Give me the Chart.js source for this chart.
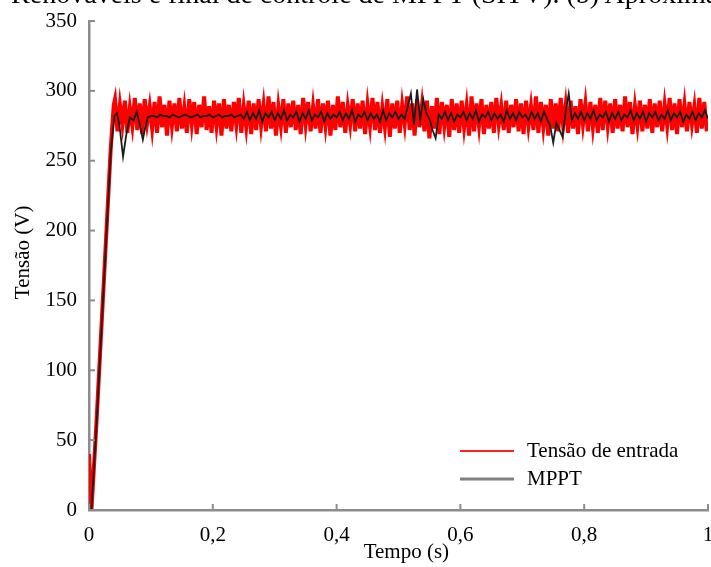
<!DOCTYPE html>
<html lang="pt">
<head>
<meta charset="UTF-8">
<title>Tensão de entrada e MPPT</title>
<script src="https://cdn.jsdelivr.net/npm/chart.js"></script>
<style>
    html, body { margin: 0; padding: 0; background: #fff; overflow: hidden; }
    .wrap { position: relative; width: 711px; height: 567px; overflow: hidden; }
    .caption {
        position: absolute; top: -22px; right: -46px;
        font: 28px "Liberation Serif", "Times New Roman", serif;
        line-height: 32px; white-space: nowrap; color: #000;
    }
</style>
</head>
<body>
<div class="wrap">
    <canvas id="tensaoChart"></canvas>
    <div class="caption">Renováveis e final de controle de MPPT (SITV). (b) Aproximação</div>
</div>
<script>
// eixos
const xTickLabels = ['0', '0,2', '0,4', '0,6', '0,8', '1'];
const yTickLabels = ['0', '50', '100', '150', '200', '250', '300', '350'];

// Tensão de entrada: subida inicial (s, V)
const redRampTime = [0, 0.004, 0.012, 0.02, 0.028, 0.035, 0.04];
const redRampVolt = [40, 0, 62, 130, 198, 258, 290];

// Tensão de entrada: regime, amostras a partir de 0,042 s a cada 0,004 s
const redStart = 0.042;
const redStep = 0.004;
const redVolt = [
    294, 271, 290, 276, 293, 270, 288, 275, 295, 272, 291, 269, 294, 277, 289, 273, 292, 270, 296, 274,
    290, 268, 293, 275, 291, 271, 295, 273, 288, 270, 294, 276, 292, 269, 290, 274, 296, 272, 289, 270,
    293, 275, 291, 268, 294, 273, 290, 271, 292, 276, 295, 270, 289, 274, 293, 269, 291, 272, 294, 275,
    290, 271, 296, 273, 292, 268, 289, 275, 294, 270, 291, 274, 293, 272, 290, 269, 295, 276, 292, 271,
    289, 273, 294, 270, 291, 275, 293, 268, 290, 272, 296, 274, 292, 270, 289, 276, 294, 271, 291, 273,
    293, 269, 290, 275, 295, 272, 292, 270, 288, 274, 294, 267, 291, 273, 293, 270, 290, 276, 296, 272,
    291, 268, 294, 274, 290, 271, 293, 266, 289, 273, 295, 269, 292, 275, 290, 267, 294, 272, 291, 270,
    293, 274, 289, 268, 296, 271, 291, 275, 294, 269, 290, 273, 292, 270, 295, 276, 289, 272, 293, 270,
    290, 274, 294, 271, 291, 269, 293, 275, 289, 272, 296, 270, 292, 274, 290, 268, 294, 273, 291, 271,
    295, 275, 290, 270, 293, 273, 289, 269, 294, 276, 291, 271, 292, 274, 290, 270, 295, 272, 293, 275,
    291, 270, 294, 273, 290, 271, 296, 274, 292, 269, 289, 275, 293, 271, 290, 273, 294, 270, 291, 274,
    293, 271, 290, 275, 295, 272, 291, 269, 294, 274, 290, 271, 292, 276, 289, 270, 295, 273, 292, 271
];

// MPPT: subida e oscilação inicial (s, V)
const blackRampTime = [0.004, 0.012, 0.02, 0.028, 0.035, 0.041, 0.045, 0.049, 0.055, 0.06, 0.066, 0.072, 0.077, 0.082, 0.087, 0.091, 0.095, 0.1];
const blackRampVolt = [0, 60, 128, 196, 255, 282, 284, 276, 253, 268, 281, 279, 285, 276, 265, 274, 281, 282];

// MPPT: regime, amostras a partir de 0,105 s a cada 0,005 s
const blackStart = 0.105;
const blackStep = 0.005;
const blackVolt = [
    282, 281, 283, 282, 282, 281, 283, 282, 281, 282, 283, 282, 281, 282, 283, 281, 282, 282, 283, 281,
    282, 283, 281, 282, 282, 283, 281, 282, 283, 280, 285, 279, 284, 280, 286, 278, 284, 281, 285, 279,
    284, 280, 286, 279, 283, 281, 285, 278, 284, 280, 286, 279, 283, 281, 285, 278, 284, 280, 283, 281,
    285, 279, 284, 280, 286, 278, 283, 281, 285, 279, 284, 280, 283, 278, 286, 279, 284, 281, 285, 280,
    283, 280, 289, 298, 276, 301, 279, 294, 284, 280, 272, 266, 283, 280, 285, 279, 284, 278, 283, 281,
    285, 279, 284, 280, 286, 278, 283, 281, 285, 279, 284, 280, 283, 278, 286, 280, 284, 279, 285, 281,
    283, 279, 285, 280, 284, 278, 285, 280, 275, 263, 277, 272, 267, 285, 298, 279, 284, 280, 285, 279,
    284, 280, 286, 279, 283, 281, 285, 278, 284, 280, 285, 279, 283, 281, 286, 279, 284, 280, 285, 278,
    284, 281, 285, 279, 283, 280, 286, 279, 284, 281, 285, 278, 283, 280, 285, 279, 284, 281, 286, 280
];

function toPoints(rampT, rampV, start, step, values) {
    const pts = rampT.map((t, i) => ({ x: t, y: rampV[i] }));
    values.forEach((v, i) => pts.push({ x: start + i * step, y: v }));
    return pts;
}

const axisGray = '#8c8c8c';
const serif = '"Liberation Serif", "Times New Roman", serif';

// marcas dos eixos para dentro
const innerTicks = {
    id: 'innerTicks',
    afterDraw(chart) {
        const { ctx, chartArea: a, scales: { x, y } } = chart;
        ctx.save();
        ctx.strokeStyle = axisGray;
        ctx.lineWidth = 2;
        x.ticks.forEach(t => {
            const px = x.getPixelForValue(t.value);
            ctx.beginPath(); ctx.moveTo(px, a.bottom); ctx.lineTo(px, a.bottom - 6); ctx.stroke();
        });
        y.ticks.forEach(t => {
            const py = y.getPixelForValue(t.value);
            ctx.beginPath(); ctx.moveTo(a.left, py); ctx.lineTo(a.left + 6, py); ctx.stroke();
        });
        ctx.restore();
    }
};

// legenda dentro do gráfico, canto inferior direito
const insideLegend = {
    id: 'insideLegend',
    afterDraw(chart, args, opts) {
        const { ctx, chartArea: a } = chart;
        const x0 = a.right - 248;
        let y0 = a.bottom - 59;
        ctx.save();
        ctx.font = '21px ' + serif;
        ctx.textBaseline = 'middle';
        ctx.fillStyle = '#000';
        chart.data.datasets.forEach((ds, i) => {
            const st = opts.styles[i];
            ctx.strokeStyle = st.color;
            ctx.lineWidth = st.width;
            ctx.beginPath(); ctx.moveTo(x0, y0); ctx.lineTo(x0 + 54, y0); ctx.stroke();
            ctx.fillText(ds.label, x0 + 67, y0);
            y0 += 28;
        });
        ctx.restore();
    }
};

new Chart(document.getElementById('tensaoChart'), {
    type: 'line',
    data: {
        datasets: [{
            label: 'Tensão de entrada',
            data: toPoints(redRampTime, redRampVolt, redStart, redStep, redVolt),
            borderColor: '#ff0000',
            borderWidth: 4,
            pointRadius: 0,
            tension: 0,
            order: 1
        }, {
            label: 'MPPT',
            data: toPoints(blackRampTime, blackRampVolt, blackStart, blackStep, blackVolt),
            borderColor: '#1c1c1c',
            borderWidth: 1.8,
            pointRadius: 0,
            tension: 0,
            order: 0
        }]
    },
    options: {
        responsive: true,
        maintainAspectRatio: false,
        animation: false,
        layout: { padding: { top: 21, right: 3, left: 0, bottom: 0 } },
        plugins: {
            legend: { display: false },
            tooltip: { enabled: false },
            insideLegend: {
                styles: [{ color: '#ff2020', width: 2 }, { color: '#808080', width: 3 }]
            }
        },
        scales: {
            x: {
                type: 'linear',
                min: 0,
                max: 1,
                ticks: {
                    stepSize: 0.2,
                    padding: 13,
                    color: '#000',
                    font: { family: serif, size: 21 },
                    maxRotation: 0,
                    callback: (v, i) => xTickLabels[i]
                },
                grid: { display: false, drawTicks: false },
                border: { display: true, color: axisGray, width: 2.5 },
                title: {
                    display: true,
                    // espaços à esquerda: o título fica um pouco à direita do centro
                    text: '   Tempo (s)',
                    color: '#000',
                    font: { family: serif, size: 21 },
                    padding: { top: 0, bottom: 2 }
                },
                afterFit(scale) {
                    scale.height = 57;
                    scale.paddingLeft = 0;
                    scale.paddingRight = 0;
                }
            },
            y: {
                min: 0,
                max: 350,
                ticks: {
                    stepSize: 50,
                    padding: 12,
                    color: '#000',
                    font: { family: serif, size: 21 },
                    callback: (v, i) => yTickLabels[i]
                },
                grid: { display: false, drawTicks: false },
                border: { display: true, color: axisGray, width: 2.5 },
                title: {
                    display: true,
                    // espaços à esquerda: o título sobe um pouco
                    text: '     Tensão (V)',
                    color: '#000',
                    font: { family: serif, size: 21 },
                    padding: { top: 11, bottom: 0 }
                },
                afterFit(scale) {
                    scale.width = 89;
                    scale.paddingTop = 0;
                    scale.paddingBottom = 0;
                }
            }
        }
    },
    plugins: [innerTicks, insideLegend]
});
</script>
</body>
</html>
